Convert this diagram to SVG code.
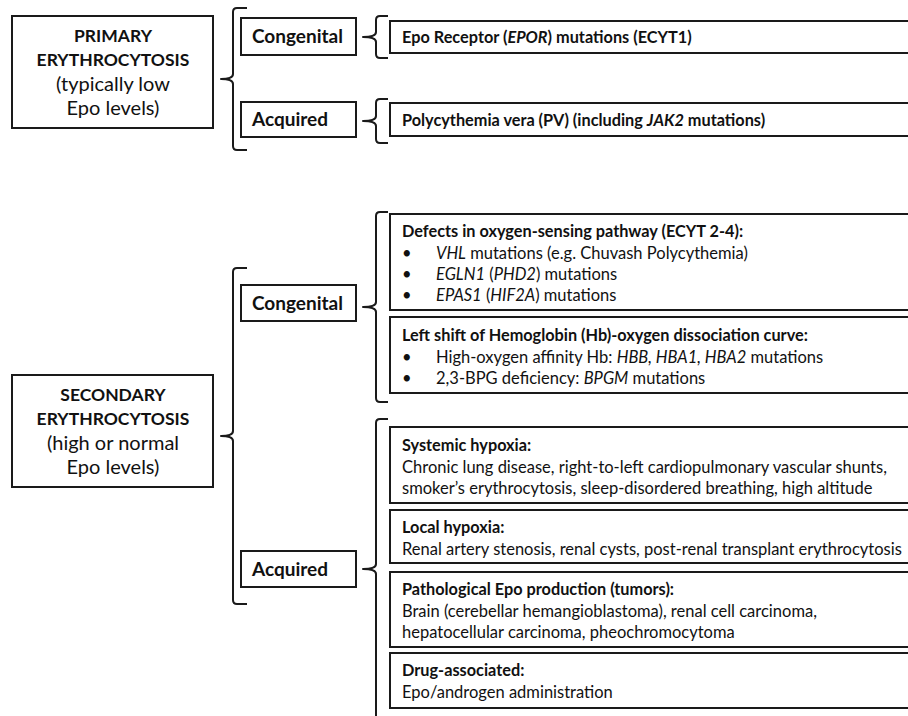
<svg xmlns="http://www.w3.org/2000/svg" width="908" height="716" viewBox="0 0 908 716">
<style>
  text { font-family: Lato, "Open Sans", "Liberation Sans", sans-serif; fill: #111; }
  .box { fill: #fff; stroke: #1a1a1a; stroke-width: 2; }
  .brace { fill: none; stroke: #1a1a1a; stroke-width: 2; stroke-linejoin: round; }
  .main { font-size: 20px; text-anchor: middle; }
  .mainb { font-size: 17.5px; font-weight: bold; text-anchor: middle; }
  .cat { font-size: 19px; font-weight: bold; }
  .t { font-size: 16.5px; }
  .tb { font-size: 16.3px; font-weight: bold; }
  .i { font-style: italic; }
</style>
<rect width="908" height="716" fill="#fff"/>

<g id="connectors">
  <path class="brace" d="M247 8 H237 Q233 8 233 12 V74 Q233 79 221 79 Q233 79 233 84 V146 Q233 150 237 150 H247"/>
  <path class="brace" d="M388 16 H380 Q376 16 376 20 V32 Q376 37 363 37 Q376 37 376 42 V54 Q376 58 380 58 H388"/>
  <path class="brace" d="M388 99 H380 Q376 99 376 103 V116 Q376 121 363 121 Q376 121 376 126 V139 Q376 143 380 143 H388"/>
  <path class="brace" d="M247 268 H237 Q233 268 233 272 V431 Q233 436 221 436 Q233 436 233 441 V600 Q233 604 237 604 H247"/>
  <path class="brace" d="M388 212 H380 Q376 212 376 216 V302 Q376 307 363 307 Q376 307 376 312 V398 Q376 402 380 402 H388"/>
  <path class="brace" d="M388 419 H380 Q376 419 376 423 V564 Q376 569 363 569 Q376 569 376 574 V720"/>
</g>

<g id="primary">
  <rect class="box" x="12" y="16" width="201" height="112"/>
  <text class="mainb" x="113" y="42">PRIMARY</text>
  <text class="mainb" x="113" y="66">ERYTHROCYTOSIS</text>
  <text class="main" x="113" y="91">(typically low</text>
  <text class="main" x="113" y="115">Epo levels)</text>
</g>

<g id="primary-congenital">
  <rect class="box" x="241" y="18" width="115" height="37"/>
  <text class="cat" x="252" y="43">Congenital</text>
</g>

<g id="primary-acquired">
  <rect class="box" x="241" y="102" width="115" height="35"/>
  <text class="cat" x="252" y="126">Acquired</text>
</g>

<g id="epor">
  <rect class="box" x="390" y="21" width="530" height="32"/>
  <text class="tb" x="402" y="43">Epo Receptor (<tspan class="i">EPOR</tspan>) mutations (ECYT1)</text>
</g>

<g id="pv">
  <rect class="box" x="390" y="103" width="530" height="33"/>
  <text class="tb" x="402" y="126">Polycythemia vera (PV) (including <tspan class="i">JAK2</tspan> mutations)</text>
</g>

<g id="secondary">
  <rect class="box" x="12" y="375" width="201" height="112"/>
  <text class="mainb" x="113" y="401">SECONDARY</text>
  <text class="mainb" x="113" y="425">ERYTHROCYTOSIS</text>
  <text class="main" x="113" y="450">(high or normal</text>
  <text class="main" x="113" y="474">Epo levels)</text>
</g>

<g id="secondary-congenital">
  <rect class="box" x="241" y="285" width="115" height="36"/>
  <text class="cat" x="252" y="310">Congenital</text>
</g>

<g id="secondary-acquired">
  <rect class="box" x="241" y="551" width="115" height="36"/>
  <text class="cat" x="252" y="576">Acquired</text>
</g>

<g id="oxygen-sensing">
  <rect class="box" x="390" y="214" width="530" height="96"/>
  <text class="tb" x="402" y="237">Defects in oxygen-sensing pathway (ECYT 2-4):</text>
  <text class="t" x="402" y="259">•</text>
  <text class="t" x="436" y="259"><tspan class="i">VHL</tspan> mutations (e.g. Chuvash Polycythemia)</text>
  <text class="t" x="402" y="280">•</text>
  <text class="t" x="436" y="280"><tspan class="i">EGLN1</tspan> (<tspan class="i">PHD2</tspan>) mutations</text>
  <text class="t" x="402" y="301">•</text>
  <text class="t" x="436" y="301"><tspan class="i">EPAS1</tspan> (<tspan class="i">HIF2A</tspan>) mutations</text>
</g>

<g id="left-shift">
  <rect class="box" x="390" y="317" width="530" height="76"/>
  <text class="tb" x="402" y="341">Left shift of Hemoglobin (Hb)-oxygen dissociation curve:</text>
  <text class="t" x="402" y="363">•</text>
  <text class="t" x="436" y="363">High-oxygen affinity Hb: <tspan class="i">HBB, HBA1, HBA2</tspan> mutations</text>
  <text class="t" x="402" y="384">•</text>
  <text class="t" x="436" y="384">2,3-BPG deficiency: <tspan class="i">BPGM</tspan> mutations</text>
</g>

<g id="systemic-hypoxia">
  <rect class="box" x="390" y="427" width="530" height="76"/>
  <text class="tb" x="402" y="451">Systemic hypoxia:</text>
  <text class="t" x="402" y="473">Chronic lung disease, right-to-left cardiopulmonary vascular shunts,</text>
  <text class="t" x="402" y="494">smoker’s erythrocytosis, sleep-disordered breathing, high altitude</text>
</g>

<g id="local-hypoxia">
  <rect class="box" x="390" y="510" width="530" height="53"/>
  <text class="tb" x="402" y="533">Local hypoxia:</text>
  <text class="t" x="402" y="555">Renal artery stenosis, renal cysts, post-renal transplant erythrocytosis</text>
</g>

<g id="tumors">
  <rect class="box" x="390" y="572" width="530" height="75"/>
  <text class="tb" x="402" y="595">Pathological Epo production (tumors):</text>
  <text class="t" x="402" y="617">Brain (cerebellar hemangioblastoma), renal cell carcinoma,</text>
  <text class="t" x="402" y="638">hepatocellular carcinoma, pheochromocytoma</text>
</g>

<g id="drug">
  <rect class="box" x="390" y="653" width="530" height="55"/>
  <text class="tb" x="402" y="676">Drug-associated:</text>
  <text class="t" x="402" y="698">Epo/androgen administration</text>
</g>
</svg>
